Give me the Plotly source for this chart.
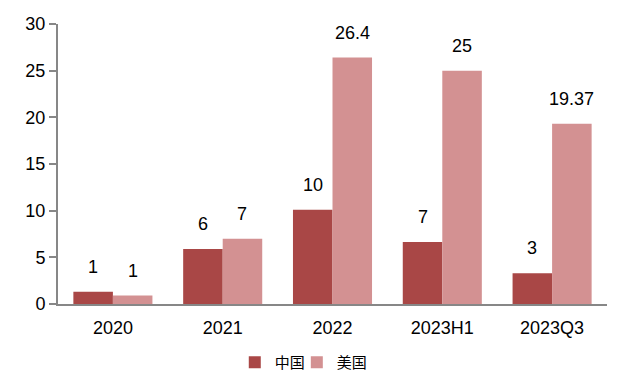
import plotly.graph_objects as go

categories = ["2020", "2021", "2022", "2023H1", "2023Q3"]
china_values = [1.3, 5.9, 10.1, 6.65, 3.3]
us_values = [0.9, 7.0, 26.4, 25.0, 19.3]
china_labels = ["1", "6", "10", "7", "3"]
us_labels = ["1", "7", "26.4", "25", "19.37"]
y_ticks = [0, 5, 10, 15, 20, 25, 30]

china_color = "#A94746"
us_color = "#D39192"
axis_color = "#878787"
font_family = "Liberation Sans, Arial, sans-serif"
legend_font = dict(family="Noto Sans CJK SC", size=15, color="#000000")

fig = go.Figure()
fig.add_trace(go.Bar(x=categories, y=china_values, name="中国", marker_color=china_color,
                     marker_line_width=0, offsetgroup="cn", legend="legend"))
fig.add_trace(go.Bar(x=categories, y=us_values, name="美国", marker_color=us_color,
                     marker_line_width=0, offsetgroup="us", legend="legend2"))

bargap = 0.28
half = (1 - bargap) / 4
annotations = []
for i, c in enumerate(categories):
    annotations.append(dict(x=i - half, y=china_values[i], xref="x", yref="y", text=china_labels[i],
                            showarrow=False, yshift=25, font=dict(size=18, color="#000000", family=font_family)))
    annotations.append(dict(x=i + half, y=us_values[i], xref="x", yref="y", text=us_labels[i],
                            showarrow=False, yshift=25, font=dict(size=18, color="#000000", family=font_family)))

# page body has an 8px margin, so the figure is drawn 8px smaller and offset
fig.update_layout(
    width=618, height=372,
    margin=dict(l=50, r=19, t=16, b=76, autoexpand=False),
    paper_bgcolor="white", plot_bgcolor="white",
    barmode="group", bargap=bargap, bargroupgap=0,
    font=dict(family=font_family, size=18, color="#000000"),
    showlegend=True,
    legend=dict(orientation="h", x=0.322, xanchor="left", y=-0.15, yanchor="top",
                font=legend_font, itemwidth=30, bgcolor="rgba(0,0,0,0)"),
    legend2=dict(orientation="h", x=0.435, xanchor="left", y=-0.15, yanchor="top",
                 font=legend_font, itemwidth=30, bgcolor="rgba(0,0,0,0)"),
    annotations=annotations,
)
fig.update_xaxes(type="category", showline=True, linecolor=axis_color, linewidth=2,
                 ticks="outside", ticklen=6, tickcolor="rgba(0,0,0,0)", automargin=False,
                 tickfont=dict(size=18), showgrid=False, zeroline=False)
fig.update_yaxes(range=[0, 30], tickvals=y_ticks, showline=True, linecolor=axis_color, linewidth=2,
                 ticks="outside", ticklen=7, tickcolor=axis_color, tickwidth=2, automargin=False,
                 tickfont=dict(size=18), showgrid=False, zeroline=False)

fig.write_html("out.html")
